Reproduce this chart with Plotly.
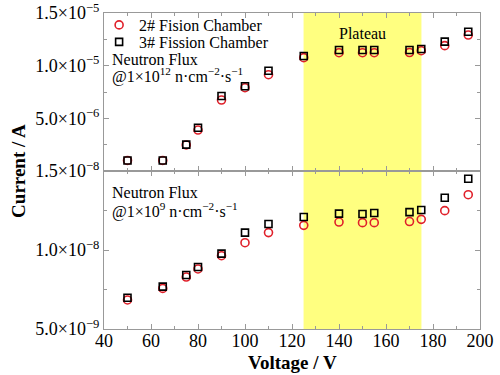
import plotly.graph_objects as go
from plotly.subplots import make_subplots

voltage = [50, 65, 75, 80, 90, 100, 110, 125, 140, 150, 155, 170, 175, 185, 195]
# High flux (1e12) currents, A
top_ch2 = [1.0e-6, 1.0e-6, 2.47e-6, 3.89e-6, 6.74e-6, 7.91e-6, 9.14e-6, 10.76e-6, 11.23e-6, 11.23e-6, 11.23e-6, 11.25e-6, 11.42e-6, 11.9e-6, 12.91e-6]
top_ch3 = [1.0e-6, 1.0e-6, 2.5e-6, 4.11e-6, 7.12e-6, 8.04e-6, 9.52e-6, 10.92e-6, 11.49e-6, 11.49e-6, 11.49e-6, 11.49e-6, 11.58e-6, 12.28e-6, 13.22e-6]
# Low flux (1e9) currents, A
bot_ch2 = [6.84e-9, 7.57e-9, 8.29e-9, 8.80e-9, 9.64e-9, 1.046e-8, 1.11e-8, 1.156e-8, 1.177e-8, 1.173e-8, 1.173e-8, 1.18e-8, 1.194e-8, 1.249e-8, 1.35e-8]
bot_ch3 = [6.98e-9, 7.68e-9, 8.42e-9, 8.92e-9, 9.77e-9, 1.11e-8, 1.165e-8, 1.209e-8, 1.23e-8, 1.228e-8, 1.234e-8, 1.24e-8, 1.253e-8, 1.331e-8, 1.451e-8]

top_tickvals = [5e-6, 1e-5, 1.5e-5]
top_ticktext = ["5.0×10<sup>−6</sup>", "1.0×10<sup>−5</sup>", "1.5×10<sup>−5</sup>"]
bot_tickvals = [5e-9, 1e-8, 1.5e-8]
bot_ticktext = ["5.0×10<sup>−9</sup>", "1.0×10<sup>−8</sup>", "1.5×10<sup>−8</sup>"]
plateau = [125, 175]

FONT = "Liberation Serif"
RED = "#e0202a"

fig = make_subplots(rows=2, cols=1, shared_xaxes=False, vertical_spacing=0)

fig.add_trace(go.Scatter(x=voltage, y=top_ch2, mode="markers", name="2# Fision Chamber", legend="legend",
                         marker=dict(symbol="circle-open", size=8, color=RED, line=dict(width=1.6))), row=1, col=1)
fig.add_trace(go.Scatter(x=voltage, y=top_ch3, mode="markers", name="3# Fission Chamber", legend="legend2",
                         marker=dict(symbol="square-open", size=7, color="black", line=dict(width=1.6))), row=1, col=1)
fig.add_trace(go.Scatter(x=voltage, y=bot_ch2, mode="markers", showlegend=False,
                         marker=dict(symbol="circle-open", size=8, color=RED, line=dict(width=1.6))), row=2, col=1)
fig.add_trace(go.Scatter(x=voltage, y=bot_ch3, mode="markers", showlegend=False,
                         marker=dict(symbol="square-open", size=7, color="black", line=dict(width=1.6))), row=2, col=1)

for xr in ["x", "x2"]:
    fig.add_shape(type="rect", xref=xr, yref="paper", x0=plateau[0], x1=plateau[1], y0=0, y1=1,
                  fillcolor="#ffff80", line=dict(width=0), layer="below")

axis_common = dict(showgrid=False, zeroline=False, showline=True, linecolor="#999999", linewidth=1,
                   mirror="ticks", ticks="inside", ticklen=5, tickcolor="#999999", automargin=False,
                   ticklabeloverflow="allow",
                   tickfont=dict(family=FONT, size=18, color="black"))

fig.update_xaxes(range=[40, 200], dtick=20, minor=dict(dtick=10, ticks="inside", ticklen=3, tickcolor="#999999"),
                 ticklabelstandoff=-5, **axis_common)
fig.update_xaxes(showticklabels=False, row=1, col=1)
fig.update_yaxes(range=[0, 1.5e-5], tickvals=top_tickvals, ticktext=top_ticktext,
                 minor=dict(dtick=2.5e-6, ticks="inside", ticklen=3, tickcolor="#999999"),
                 row=1, col=1, **axis_common)
fig.update_yaxes(range=[5e-9, 1.5e-8], tickvals=bot_tickvals, ticktext=bot_ticktext,
                 minor=dict(dtick=2.5e-9, tick0=5e-9, ticks="inside", ticklen=3, tickcolor="#999999"),
                 row=2, col=1, **axis_common)

ann_font = dict(family=FONT, size=16, color="black")


def label(x, y, text, **kw):
    d = dict(xref="paper", yref="paper", x=x, y=y, xanchor="left", yanchor="middle", showarrow=False,
             font=ann_font, text=text)
    d.update(kw)
    fig.add_annotation(**d)


# pixel rows -> paper: (329 - p) / 316
label(0.015, (329 - 59) / 316, "Neutron Flux")
label(0.015, (329 - 76) / 316, "@1×10<sup>12</sup> n·cm<sup>−2</sup>·s<sup>−1</sup>")
label(0.015, (329 - 193) / 316, "Neutron Flux")
label(0.015, (329 - 210) / 316, "@1×10<sup>9</sup> n·cm<sup>−2</sup>·s<sup>−1</sup>")
fig.add_annotation(xref="x", yref="paper", x=150, y=(329 - 33) / 316, xanchor="center", yanchor="middle",
                   showarrow=False, font=ann_font, text="Plateau")
fig.add_annotation(xref="paper", yref="paper", x=-0.229, y=0.5, xanchor="center", yanchor="middle",
                   textangle=-90, showarrow=False,
                   font=dict(family=FONT, size=19, color="black"), text="<b>Current / A</b>")
fig.add_annotation(xref="paper", yref="paper", x=0.5, y=(329 - 362) / 316, xanchor="center", yanchor="middle",
                   showarrow=False,
                   font=dict(family=FONT, size=19, color="black"), text="<b>Voltage / V</b>")

leg_common = dict(xanchor="left", yanchor="middle", bgcolor="rgba(0,0,0,0)",
                  font=dict(family=FONT, size=16, color="black"), itemwidth=30)

fig.update_layout(width=500, height=375, margin=dict(l=104, r=20, t=13, b=46, autoexpand=False),
                  paper_bgcolor="white", plot_bgcolor="white",
                  legend=dict(x=-0.013, y=(329 - 25) / 316, **leg_common),
                  legend2=dict(x=-0.013, y=(329 - 42) / 316, **leg_common))

fig.write_html("out.html", config={"displayModeBar": False},
               post_script="document.body.style.margin='0';")
